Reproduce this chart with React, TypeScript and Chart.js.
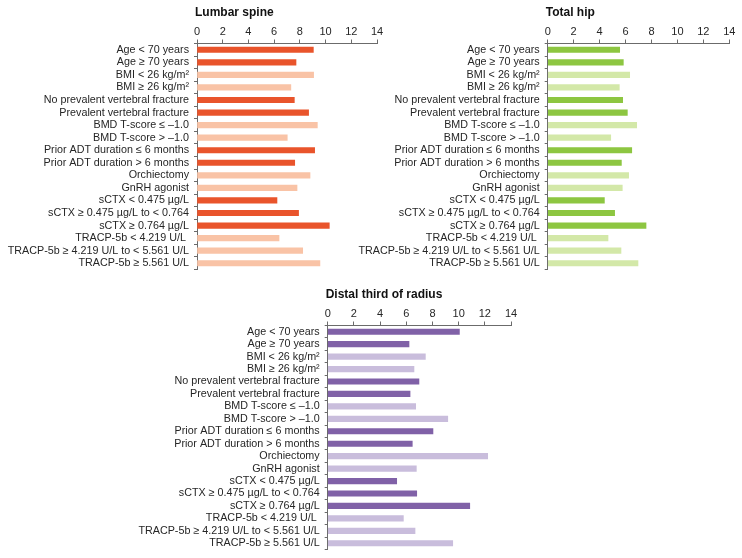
import React, { useEffect, useRef } from "react";
import { Chart, registerables } from "chart.js";

Chart.register(...registerables);

// ---------- data ----------
const categories = [
  "Age < 70 years",
  "Age ≥ 70 years",
  "BMI < 26 kg/m²",
  "BMI ≥ 26 kg/m²",
  "No prevalent vertebral fracture",
  "Prevalent vertebral fracture",
  "BMD T-score ≤ –1.0",
  "BMD T-score > –1.0",
  "Prior ADT duration ≤ 6 months",
  "Prior ADT duration > 6 months",
  "Orchiectomy",
  "GnRH agonist",
  "sCTX < 0.475 µg/L",
  "sCTX ≥ 0.475 µg/L to < 0.764",
  "sCTX ≥ 0.764 µg/L",
  "TRACP-5b < 4.219 U/L ",
  "TRACP-5b ≥ 4.219 U/L to < 5.561 U/L",
  "TRACP-5b ≥ 5.561 U/L",
];

// which subgroup rows use the dark shade vs the light shade
const shade = [
  "dark", "dark",
  "light", "light",
  "dark", "dark",
  "light", "light",
  "dark", "dark",
  "light", "light",
  "dark", "dark", "dark",
  "light", "light", "light",
];

const lumbarSpine = [
  9.05, 7.7, 9.07, 7.3, 7.57, 8.68, 9.36, 7.02, 9.15, 7.6, 8.79, 7.78, 6.22,
  7.9, 10.29, 6.38, 8.22, 9.56,
];

const totalHip = [
  5.55, 5.83, 6.32, 5.52, 5.78, 6.14, 6.86, 4.86, 6.48, 5.68, 6.24, 5.75, 4.37,
  5.16, 7.58, 4.65, 5.65, 6.96,
];

const distalRadius = [
  10.06, 6.21, 7.46, 6.59, 6.97, 6.29, 6.72, 9.17, 8.04, 6.46, 12.22, 6.77,
  5.27, 6.8, 10.85, 5.78, 6.67, 9.55,
];

const xTicks = [0, 2, 4, 6, 8, 10, 12, 14];

// ---------- styling ----------
const FONT = "'Liberation Sans', Arial, Helvetica, sans-serif";
const AXIS = "#6b6b6b";
const TEXT = "#262626";

const titlePlugin = {
  id: "panelTitle",
  afterDraw(chart: any, _args: any, opts: any) {
    const ctx = chart.ctx;
    ctx.save();
    ctx.font = `bold 12px ${FONT}`;
    ctx.fillStyle = "#111";
    ctx.textBaseline = "middle";
    ctx.textAlign = "left";
    ctx.fillText(opts.text, chart.chartArea.left - 2, opts.y);
    ctx.restore();
  },
};

type PanelProps = {
  title: string;
  values: number[];
  dark: string;
  light: string;
  left: number;
  top: number;
  width: number;
  height: number;
  labelWidth: number;
  rightPad: number;
  topPad: number;
  bottomPad: number;
  titleY: number;
};

function Panel(p: PanelProps) {
  const ref = useRef<HTMLCanvasElement | null>(null);
  useEffect(() => {
    if (!ref.current) return;
    const chart = new Chart(ref.current, {
      type: "bar",
      data: {
        labels: categories,
        datasets: [
          {
            data: p.values,
            backgroundColor: shade.map((s) => (s === "dark" ? p.dark : p.light)),
            barThickness: 5.5,
            borderWidth: 0,
          },
        ],
      },
      options: {
        indexAxis: "y",
        animation: false,
        responsive: false,
        maintainAspectRatio: false,
        layout: {
          padding: { left: 0, right: p.rightPad, top: p.topPad, bottom: p.bottomPad },
        },
        plugins: {
          legend: { display: false },
          tooltip: { enabled: false },
          panelTitle: { text: p.title, y: p.titleY },
        } as any,
        scales: {
          x: {
            position: "top",
            min: 0,
            max: 14,
            afterBuildTicks: (s: any) => {
              s.ticks = xTicks.map((v) => ({ value: v }));
            },
            afterFit: (s: any) => {
              s.height = 20;
              s.paddingLeft = 0;
              s.paddingRight = 0;
            },
            ticks: {
              font: { family: FONT, size: 11 },
              color: TEXT,
              padding: 1,
              maxRotation: 0,
              autoSkip: false,
            },
            grid: {
              display: true,
              drawOnChartArea: false,
              drawTicks: true,
              tickLength: 4,
              color: AXIS,
            },
            border: { display: true, color: AXIS, width: 1 },
          },
          y: {
            afterFit: (s: any) => {
              s.width = p.labelWidth;
              s.paddingTop = 0;
              s.paddingBottom = 0;
            },
            ticks: {
              font: { family: FONT, size: 10.75 },
              color: TEXT,
              padding: 5,
              autoSkip: false,
            },
            grid: {
              display: true,
              drawOnChartArea: false,
              drawTicks: true,
              tickLength: 3,
              offset: true,
              color: AXIS,
            },
            border: { display: true, color: AXIS, width: 1 },
          },
        },
      } as any,
      plugins: [titlePlugin],
    });
    return () => chart.destroy();
  }, []);
  return (
    <canvas
      ref={ref}
      width={p.width}
      height={p.height}
      style={{
        position: "absolute",
        left: p.left,
        top: p.top,
        width: p.width,
        height: p.height,
      }}
    />
  );
}

export default function App() {
  return (
    <div
      style={{
        position: "absolute",
        left: 0,
        top: 0,
        width: 742,
        height: 558,
        background: "#fff",
      }}
    >
      <Panel
        title="Lumbar spine"
        values={lumbarSpine}
        dark="#E9542B"
        light="#F9C3A6"
        left={0}
        top={0}
        width={392}
        height={276}
        labelWidth={197}
        rightPad={15}
        topPad={23.5}
        bottomPad={6.5}
        titleY={13}
      />
      <Panel
        title="Total hip"
        values={totalHip}
        dark="#8DC641"
        light="#D3E8A8"
        left={352}
        top={0}
        width={390}
        height={276}
        labelWidth={195.7}
        rightPad={12.7}
        topPad={23.5}
        bottomPad={6.5}
        titleY={13}
      />
      <Panel
        title="Distal third of radius"
        values={distalRadius}
        dark="#8061A7"
        light="#C9BDDC"
        left={130}
        top={280}
        width={392}
        height={278}
        labelWidth={197.7}
        rightPad={11}
        topPad={25.5}
        bottomPad={8.5}
        titleY={15}
      />
    </div>
  );
}
